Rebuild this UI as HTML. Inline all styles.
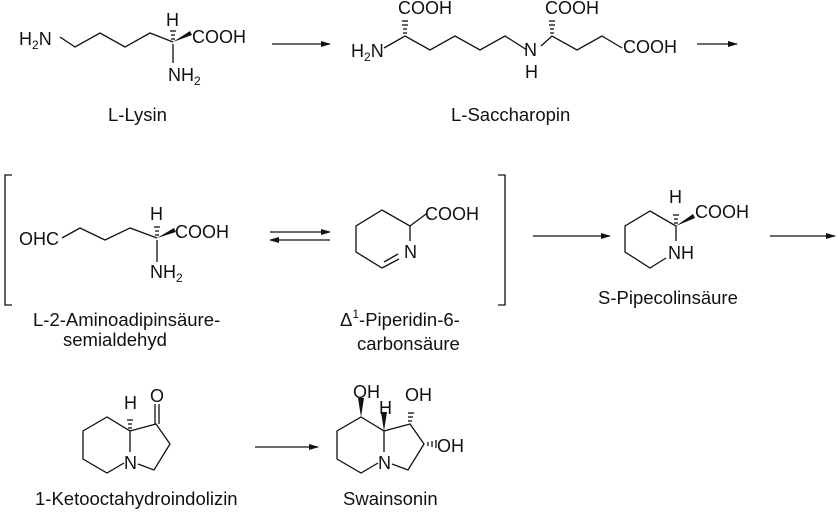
<!DOCTYPE html>
<html><head><meta charset="utf-8"><style>
body{margin:0;background:#fff}
svg{display:block}
text{font-family:"Liberation Sans",Arial,sans-serif;font-size:18px;fill:#111}
.l{font-size:18.5px}
.s{font-size:12px}
</style></head><body>
<svg width="838" height="512" viewBox="0 0 838 512" xmlns="http://www.w3.org/2000/svg">
<defs><marker id="ah" markerWidth="10" markerHeight="8" refX="9" refY="4" orient="auto" markerUnits="userSpaceOnUse"><path d="M0,1 L10,4 L0,7 Z" fill="#111"/></marker></defs>
<g stroke="#111" stroke-width="1.3" fill="none">
<polyline points="60,37 75,47 100,33 125,47 150,33 173,42"/>
<line x1="173" y1="44" x2="173" y2="63"/>
<line x1="272" y1="44" x2="330" y2="44" marker-end="url(#ah)"/>
<polyline points="384,48 405,36 430,50 455,36 480,50 505,36 527,50"/>
<polyline points="541,46 552,36 577,50 602,36 622,48"/>
<line x1="697" y1="44" x2="737" y2="44" marker-end="url(#ah)"/>
<polyline points="12,175 5,175 5,305 12,305"/>
<polyline points="498,175 505,175 505,305 498,305"/>
<polyline points="62,238 80,228 105,240 130,228 157,238"/>
<line x1="157" y1="240" x2="157" y2="262"/>
<line x1="270" y1="232" x2="330" y2="232" marker-end="url(#ah)"/>
<line x1="330" y1="240" x2="270" y2="240" marker-end="url(#ah)"/>
<polyline points="399,259 382,268 356,252 356,226 382,210 410,226 410,241"/>
<line x1="384" y1="262" x2="398" y2="254"/>
<line x1="410" y1="226" x2="426" y2="214"/>
<line x1="533" y1="236" x2="610" y2="236" marker-end="url(#ah)"/>
<polyline points="666,258 650,268 625,252 625,226 650,211 676,226 676,241"/>
<line x1="770" y1="236" x2="835" y2="236" marker-end="url(#ah)"/>
<polyline points="124,463 107,473 83,459 83,431 107,417 130,431 130,452"/>
<polyline points="130,431 156,424 170,444 154,470 138,464"/>
<line x1="155" y1="424" x2="155" y2="404"/><line x1="159" y1="424" x2="159" y2="404"/>
<line x1="255" y1="447" x2="318" y2="447" marker-end="url(#ah)"/>
<polyline points="378,463 361,473 337,459 337,431 361,417 384,431 384,452"/>
<polyline points="384,431 410,424 424,444 408,470 392,464"/>
</g>
<g fill="#111">
<path d="M173,42 L190,31 L192,35 Z"/>
<path d="M157,238 L174,228 L176,232 Z"/>
<path d="M676,226 L693,214 L695,218 Z"/>
<path d="M361,417 L358,398 L364,398 Z"/>
<path d="M384,431 L381,412 L387,412 Z"/>
</g>
<g stroke="#111" stroke-width="1.3">
<line x1="171" y1="39" x2="175" y2="39"/><line x1="171" y1="35" x2="175" y2="35"/><line x1="170" y1="31" x2="176" y2="31"/>
<line x1="403" y1="33" x2="407" y2="33"/><line x1="403" y1="29" x2="407" y2="29"/><line x1="402" y1="25" x2="408" y2="25"/><line x1="402" y1="21" x2="408" y2="21"/>
<line x1="550" y1="33" x2="554" y2="33"/><line x1="550" y1="29" x2="554" y2="29"/><line x1="549" y1="25" x2="555" y2="25"/><line x1="549" y1="21" x2="555" y2="21"/>
<line x1="155" y1="235" x2="159" y2="235"/><line x1="155" y1="231" x2="159" y2="231"/><line x1="154" y1="227" x2="160" y2="227"/>
<line x1="674" y1="223" x2="678" y2="223"/><line x1="674" y1="219" x2="678" y2="219"/><line x1="673" y1="215" x2="679" y2="215"/>
<line x1="128" y1="428" x2="132" y2="428"/><line x1="128" y1="424" x2="132" y2="424"/><line x1="127" y1="420" x2="133" y2="420"/>
<line x1="408" y1="421" x2="412" y2="421"/><line x1="408" y1="417" x2="413" y2="417"/><line x1="408" y1="413" x2="414" y2="413"/>
<line x1="428" y1="442" x2="428" y2="446"/><line x1="432" y1="441" x2="432" y2="447"/><line x1="436" y1="440" x2="436" y2="448"/>
</g>
<text x="19" y="45">H<tspan class="s" dy="4">2</tspan><tspan dy="-4">N</tspan></text>
<text x="166" y="26">H</text>
<text x="192" y="43">COOH</text>
<text x="168" y="81">NH<tspan class="s" dy="4">2</tspan></text>
<text class="l" x="108" y="121">L-Lysin</text>
<text x="351" y="57">H<tspan class="s" dy="4">2</tspan><tspan dy="-4">N</tspan></text>
<text x="398" y="14">COOH</text>
<text x="545" y="14">COOH</text>
<text x="524" y="56">N</text>
<text x="525" y="78">H</text>
<text x="623" y="53">COOH</text>
<text class="l" x="451" y="121">L-Saccharopin</text>
<text x="19" y="245">OHC</text>
<text x="150" y="220">H</text>
<text x="175" y="238">COOH</text>
<text x="150" y="278">NH<tspan class="s" dy="4">2</tspan></text>
<text class="l" x="33" y="326">L-2-Aminoadipinsäure-</text>
<text class="l" x="63" y="346">semialdehyd</text>
<text x="404" y="258">N</text>
<text x="425" y="220">COOH</text>
<text class="l" x="340" y="326">Δ<tspan class="s" dy="-8">1</tspan><tspan dy="8">-Piperidin-6-</tspan></text>
<text class="l" x="357" y="350">carbonsäure</text>
<text x="669" y="203">H</text>
<text x="695" y="218">COOH</text>
<text x="668" y="259">NH</text>
<text class="l" x="598" y="304">S-Pipecolinsäure</text>
<text x="124" y="409">H</text>
<text x="150" y="402">O</text>
<text x="124" y="469">N</text>
<text class="l" x="35" y="505">1-Ketooctahydroindolizin</text>
<text x="353" y="398">OH</text>
<text x="379" y="414">H</text>
<text x="405" y="401">OH</text>
<text x="437" y="452">OH</text>
<text x="378" y="469">N</text>
<text class="l" x="343" y="505">Swainsonin</text>
</svg>
</body></html>
